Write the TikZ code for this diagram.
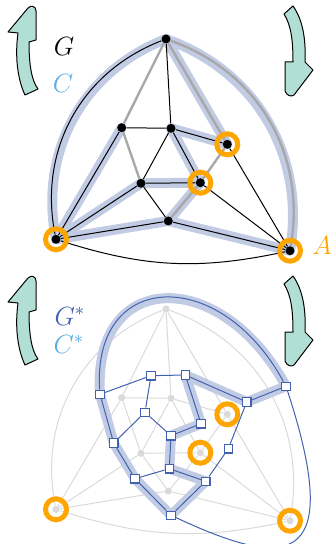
\documentclass[tikz,border=0pt]{standalone}
\usepackage{xcolor}
\usepackage{tikz}
\definecolor{cutblue}{RGB}{193,203,227}
\definecolor{dualblue}{RGB}{66,98,176}
\definecolor{skyblue}{RGB}{92,172,230}
\definecolor{ringorange}{RGB}{255,165,0}
\definecolor{turnfill}{RGB}{178,223,213}
\definecolor{edgegrey}{RGB}{168,168,168}
\definecolor{ghostgrey}{RGB}{218,218,218}
\pgfdeclarelayer{cut}
\pgfdeclarelayer{lines}
\pgfsetlayers{cut,lines,main}

\begin{document}
\begin{tikzpicture}[x=0.5pt,y=0.5pt,
  vtx/.style={circle,fill=black,inner sep=0pt,minimum size=4.5pt},
  gvtx/.style={circle,fill=ghostgrey,inner sep=0pt,minimum size=3.6pt},
  dvtx/.style={rectangle,draw=dualblue,fill=white,line width=0.6pt,
               inner sep=0pt,minimum size=4.2pt},
  ring/.style={circle,draw=ringorange,line width=2.5pt,inner sep=0pt,minimum size=10.5pt},
  tline/.style={black,line width=0.5pt},
  greyline/.style={edgegrey,line width=1.2pt},
  ghost/.style={ghostgrey,line width=0.5pt},
  dline/.style={dualblue,line width=0.5pt},
  hl/.style={cutblue,line width=5pt,line cap=round,line join=round},
  turn/.style={fill=turnfill,draw=black,line width=0.5pt,line join=round},
  lbl/.style={font=\fontsize{12}{14}\selectfont,inner sep=0pt,scale=1.1}]
\useasboundingbox (0,0) rectangle (332,-544);

% rotation arrows
\draw[turn] (25,-95) .. controls (17,-78) and (15,-55) .. (18,-33) -- (8,-32) -- (28,-8)
  .. controls (31,-5) and (36,-6) .. (36,-11) -- (36,-40) -- (29,-42)
  .. controls (29,-62) and (31,-80) .. (38,-89) -- cycle;
\draw[turn] (284,-14) -- (293,-6) .. controls (303,-20) and (306,-40) .. (305,-62) -- (313,-70)
  -- (294,-95) .. controls (291,-97) and (287,-96) .. (285,-91) -- (285,-62) -- (293,-62)
  .. controls (293,-40) and (291,-25) .. (284,-14) -- cycle;

% primal graph G
\node[vtx] (T) at (166,-39) {};
\node[vtx] (a) at (121.7,-127.7) {};
\node[vtx] (b) at (171,-128.3) {};
\node[vtx] (c) at (227.3,-144.3) {};
\node[vtx] (d) at (141,-183.3) {};
\node[vtx] (e) at (200.3,-182.7) {};
\node[vtx] (f) at (168.3,-221) {};
\node[vtx] (L) at (56,-239.3) {};
\node[vtx] (R) at (290,-250.7) {};

% the cut C
\begin{pgfonlayer}{cut}
\draw[hl] (T.center) to[bend right=40] (L.center);
\draw[hl] (T.center) to[bend left=40] (R.center);
\draw[hl] (T.center) -- (c.center); \draw[hl] (b.center) -- (c.center);
\draw[hl] (b.center) -- (e.center); \draw[hl] (d.center) -- (e.center);
\draw[hl] (e.center) -- (f.center); \draw[hl] (f.center) -- (R.center);
\draw[hl] (f.center) -- (L.center); \draw[hl] (d.center) -- (L.center);
\draw[hl] (a.center) -- (L.center);
\end{pgfonlayer}

\begin{pgfonlayer}{lines}
\draw[greyline] (T) -- (a); \draw[greyline] (a) -- (d); \draw[greyline] (T) -- (c);
\draw[greyline] (c) -- (e); \draw[greyline] (e) -- (f);
\draw[greyline] (T) to[bend left=40] (R);

\draw[tline] (T) to[bend right=40] (L); \draw[tline] (L) to[bend right=15] (R);
\draw[tline] (T) -- (b); \draw[tline] (a) -- (b); \draw[tline] (b) -- (c);
\draw[tline] (b) -- (e); \draw[tline] (b) -- (d); \draw[tline] (d) -- (e);
\draw[tline] (d) -- (f); \draw[tline] (d) -- (L); \draw[tline] (a) -- (L);
\draw[tline] (f) -- (L); \draw[tline] (f) -- (R); \draw[tline] (c) -- (R);
\draw[tline] (e) -- (R);
\end{pgfonlayer}

\node[ring] (rL) at (L) {}; \node[ring] (rR) at (R) {};
\node[ring] (rc) at (c) {}; \node[ring] (re) at (e) {};

\node[lbl] (G) at (64,-46) {$G$};
\node[lbl,text=skyblue] (C) at (63,-83) {$C$};
\node[lbl,text=ringorange] (A) at (322,-245) {$A$};

\begin{scope}[yshift=-135pt]
\draw[turn] (25,-95) .. controls (17,-78) and (15,-55) .. (18,-33) -- (8,-32) -- (28,-8)
  .. controls (31,-5) and (36,-6) .. (36,-11) -- (36,-40) -- (29,-42)
  .. controls (29,-62) and (31,-80) .. (38,-89) -- cycle;
\draw[turn] (284,-14) -- (293,-6) .. controls (303,-20) and (306,-40) .. (305,-62) -- (313,-70)
  -- (294,-95) .. controls (291,-97) and (287,-96) .. (285,-91) -- (285,-62) -- (293,-62)
  .. controls (293,-40) and (291,-25) .. (284,-14) -- cycle;
\end{scope}

% G in grey, under the dual
\node[gvtx] (gT) at (166,-309) {};
\node[gvtx] (ga) at (121.7,-397.7) {};
\node[gvtx] (gb) at (171,-398.3) {};
\node[gvtx] (gc) at (227.3,-414.3) {};
\node[gvtx] (gd) at (141,-453.3) {};
\node[gvtx] (ge) at (200.3,-452.7) {};
\node[gvtx] (gf) at (168.3,-491) {};
\node[gvtx] (gL) at (56,-509.3) {};
\node[gvtx] (gR) at (290,-520.7) {};
\begin{pgfonlayer}{cut}
\draw[ghost] (gT) to[bend right=40] (gL); \draw[ghost] (gT) to[bend left=40] (gR);
\draw[ghost] (gL) to[bend right=15] (gR);
\draw[ghost] (gT) -- (ga); \draw[ghost] (gT) -- (gb); \draw[ghost] (gT) -- (gc);
\draw[ghost] (ga) -- (gb); \draw[ghost] (ga) -- (gd); \draw[ghost] (ga) -- (gL);
\draw[ghost] (gb) -- (gc); \draw[ghost] (gb) -- (ge); \draw[ghost] (gb) -- (gd);
\draw[ghost] (gc) -- (ge); \draw[ghost] (gc) -- (gR); \draw[ghost] (gd) -- (ge);
\draw[ghost] (gd) -- (gf); \draw[ghost] (gd) -- (gL); \draw[ghost] (ge) -- (gf);
\draw[ghost] (ge) -- (gR); \draw[ghost] (gf) -- (gR); \draw[ghost] (gf) -- (gL);
\end{pgfonlayer}

% dual graph G*
\node[dvtx] (f1) at (100,-394.3) {};
\node[dvtx] (f2) at (151,-375.7) {};
\node[dvtx] (f3) at (185.3,-375) {};
\node[dvtx] (f4) at (286,-386.3) {};
\node[dvtx] (f5) at (246.7,-402) {};
\node[dvtx] (f6) at (145,-412.3) {};
\node[dvtx] (f7) at (201,-423.7) {};
\node[dvtx] (f8) at (171,-435.7) {};
\node[dvtx] (f9) at (113.7,-443) {};
\node[dvtx] (f10) at (228.3,-448.7) {};
\node[dvtx] (f11) at (169.3,-468.7) {};
\node[dvtx] (f12) at (135,-478.7) {};
\node[dvtx] (f13) at (205.7,-481.3) {};
\node[dvtx] (f14) at (171,-515.3) {};

% the cycle C*
\begin{pgfonlayer}{cut}
\draw[hl] (f1.center) .. controls (92,-270) and (220,-265) .. (f4.center) -- (f5.center)
  -- (f3.center) -- (f7.center) -- (f8.center) -- (f11.center) -- (f13.center)
  -- (f14.center) -- (f12.center) -- (f9.center) -- cycle;
\end{pgfonlayer}

\node[ring] (grL) at (gL) {}; \node[ring] (grR) at (gR) {};
\node[ring] (grc) at (gc) {}; \node[ring] (gre) at (ge) {};

\begin{pgfonlayer}{lines}
\draw[dline] (f1) .. controls (92,-270) and (220,-265) .. (f4);
\draw[dline] (f14) .. controls (280,-566) and (348,-576) .. (f4);
\draw[dline] (f1) -- (f2); \draw[dline] (f2) -- (f3); \draw[dline] (f3) -- (f5);
\draw[dline] (f5) -- (f4); \draw[dline] (f1) -- (f9); \draw[dline] (f2) -- (f6);
\draw[dline] (f3) -- (f7); \draw[dline] (f5) -- (f10); \draw[dline] (f6) -- (f9);
\draw[dline] (f6) -- (f8); \draw[dline] (f7) -- (f8); \draw[dline] (f8) -- (f11);
\draw[dline] (f9) -- (f12); \draw[dline] (f11) -- (f12); \draw[dline] (f11) -- (f13);
\draw[dline] (f10) -- (f13); \draw[dline] (f12) -- (f14); \draw[dline] (f13) -- (f14);
\end{pgfonlayer}

\node[lbl,text=dualblue] (Gs) at (70,-316) {$G^*$};
\node[lbl,text=skyblue] (Cs) at (69,-344) {$C^*$};
\end{tikzpicture}
\end{document}
